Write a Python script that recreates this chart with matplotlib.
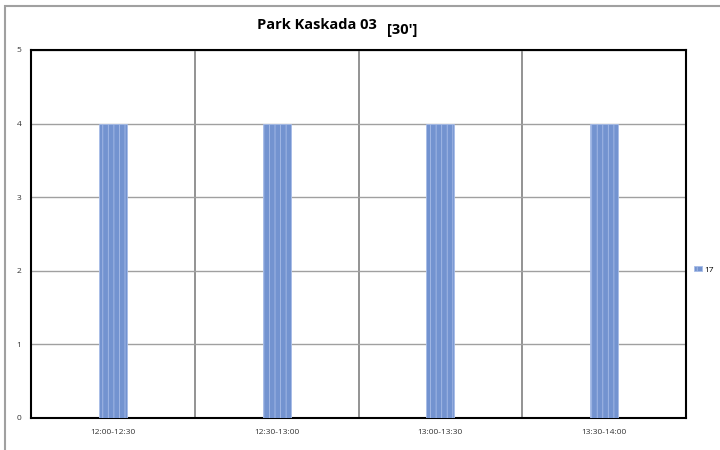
import numpy as np
import matplotlib.pyplot as plt
from matplotlib.patches import Rectangle

categories = ["12:00-12:30", "12:30-13:00", "13:00-13:30", "13:30-14:00"]
values = [4, 4, 4, 4]
series_name = "17"

plt.rcParams['font.family'] = ['Open Sans', 'DejaVu Sans']
plt.rcParams['hatch.color'] = '#3a5a9a'
plt.rcParams['hatch.linewidth'] = 0.6

fig = plt.figure(figsize=(7.2, 4.5), dpi=100)
ax = fig.add_axes([31/720, 32/450, 655/720, 368/450])

x = np.arange(len(categories))
ax.bar(x, values, width=0.17, color='#7393d0', edgecolor='#a8bde8',
       linewidth=0.6, hatch='|||', label=series_name, zorder=3)

ax.set_xlim(-0.5, len(categories) - 0.5)
ax.set_ylim(0, 5)
ax.set_yticks(range(0, 6))
ax.set_xticks(x)
ax.set_xticklabels(categories)
ax.set_xticks(np.arange(0.5, len(categories) - 0.5), minor=True)
ax.tick_params(axis='both', which='both', length=0, labelsize=6, colors='#333333', pad=8)
ax.tick_params(axis='y', pad=7)
ax.grid(axis='y', which='major', color='#a0a0a0', linewidth=1, zorder=0)
ax.grid(axis='x', which='minor', color='#808080', linewidth=1.2, zorder=0)
for s in ax.spines.values():
    s.set_color('black')
    s.set_linewidth(1.5)

fig.text(0.44, 0.944, "Park Kaskada 03", fontsize=10.5, fontweight='bold', ha='center', va='center')
fig.text(0.558, 0.933, "[30']", fontsize=10.5, fontweight='bold', ha='center', va='center')

# outer chart frame
fig.patches.append(Rectangle((5/720, -0.1), 1.2, 1.1 - 6/450, transform=fig.transFigure,
                             fill=False, edgecolor='#a0a0a0', linewidth=1.5))

fig.legend(loc='center left', bbox_to_anchor=(693/720, 0.4), frameon=False,
           fontsize=6, handlelength=1.0, handleheight=0.5, handletextpad=0.2,
           borderpad=0.1, borderaxespad=0)

fig.savefig("out.png", dpi=100)
